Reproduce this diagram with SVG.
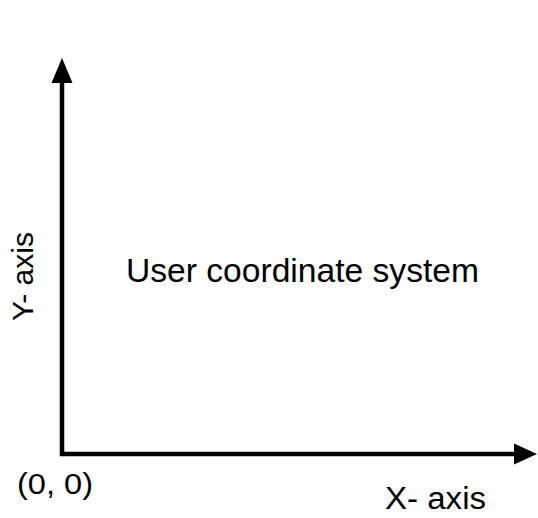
<svg xmlns="http://www.w3.org/2000/svg" width="538" height="518" viewBox="0 0 538 518">
  <style>
    .axis { stroke: #000; stroke-width: 4.5; fill: none; }
    .head { fill: #000; }
    .lbl { font-family: "Liberation Sans", Arial, Helvetica, sans-serif; fill: #000; }
  </style>
  <rect width="538" height="518" fill="#fff"/>
  <g id="connectors">
    <polyline class="axis" points="62,78 62,454 518,454"/>
    <polygon class="head" points="62,58 72.5,83 51.5,83"/>
    <polygon class="head" points="537,454 514,443.5 514,464.5"/>
  </g>
  <g id="user-label">
    <text class="lbl" x="126" y="282" font-size="34" textLength="353" lengthAdjust="spacingAndGlyphs">User coordinate system</text>
  </g>
  <g id="y-axis-label">
    <text class="lbl" transform="translate(32.5,321) rotate(-90)" x="0" y="0" font-size="29" textLength="89" lengthAdjust="spacingAndGlyphs">Y- axis</text>
  </g>
  <g id="x-axis-label">
    <text class="lbl" x="385" y="509" font-size="31" textLength="101" lengthAdjust="spacingAndGlyphs">X- axis</text>
  </g>
  <g id="origin-label">
    <text class="lbl" x="17" y="494" font-size="29" textLength="76" lengthAdjust="spacingAndGlyphs">(0, 0)</text>
  </g>
</svg>
